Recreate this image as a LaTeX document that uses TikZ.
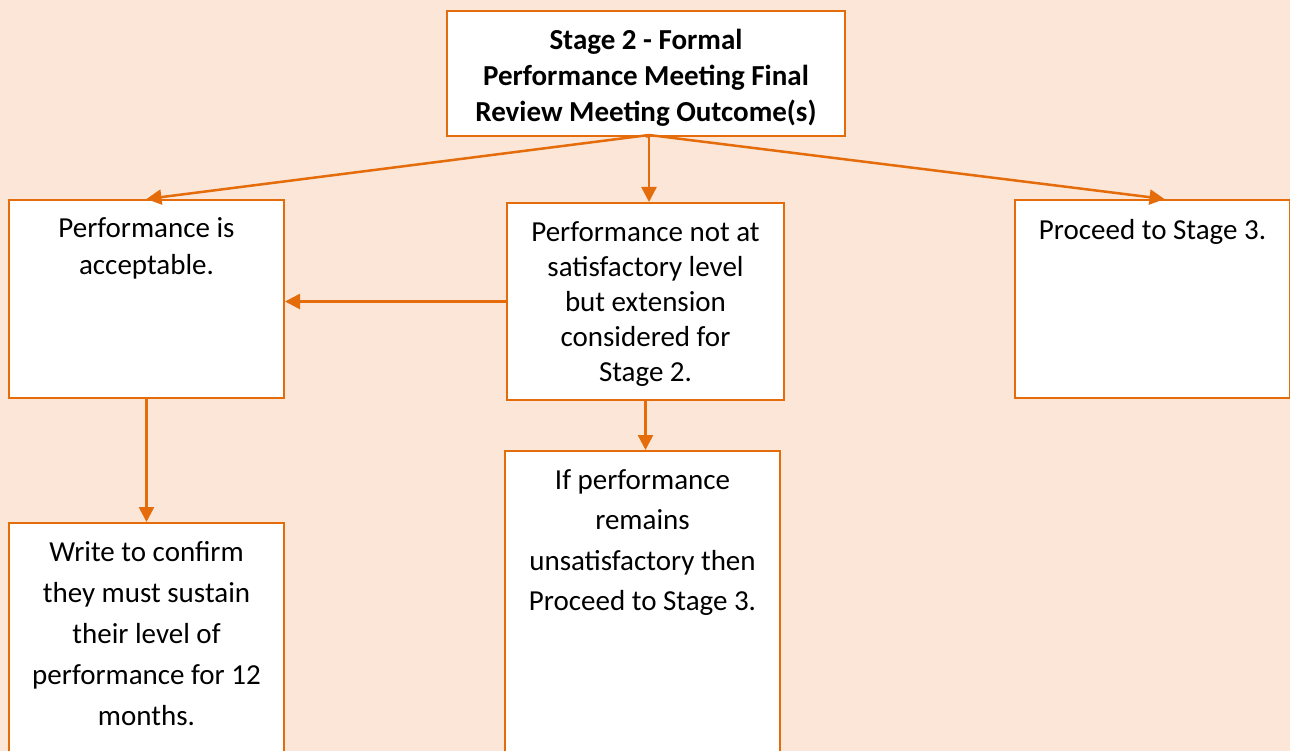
\documentclass[tikz,border=0pt]{standalone}
\usepackage{fontspec}
\setmainfont{Carlito}
\usetikzlibrary{arrows.meta,positioning}

\definecolor{peach}{HTML}{FBE6D8}
\definecolor{rust}{HTML}{E46C0A}

\begin{document}
\begin{tikzpicture}[x=1pt,y=-1pt,
  box/.style={draw=rust,fill=white,line width=2pt,inner sep=0pt,anchor=north west},
  boxtext/.style={align=center,inner sep=0pt,anchor=north,font=\fontsize{29}{#1}\selectfont},
  headtext/.style={align=center,inner sep=0pt,anchor=north,font=\fontsize{29}{#1}\selectfont\bfseries},
  arr/.style={draw=rust,line width=2.5pt,-{Triangle[length=15pt,width=15pt]}}]
  % page
  \fill[peach] (0,0) rectangle (1290,751);
  \useasboundingbox (0,0) rectangle (1290,751);
  \clip (0,0) rectangle (1290,751);
  % boxes
  \node[box,minimum width=398pt,minimum height=125pt] (outcome) at (446,10) {};
  \node[box,minimum width=275pt,minimum height=198pt] (accept) at (8,199) {};
  \node[box,minimum width=277pt,minimum height=197pt] (extend) at (506,202) {};
  \node[box,minimum width=275pt,minimum height=198pt] (stage3) at (1014,199) {};
  \node[box,minimum width=275pt,minimum height=260pt] (sustain) at (8,522) {};
  \node[box,minimum width=275pt,minimum height=330pt] (remain) at (504,450) {};
  % texts
  \node[headtext=36] (outcometxt) [below=19pt of outcome.north]
    {Stage 2 - Formal\\Performance Meeting Final\\Review Meeting Outcome(s)};
  \node[boxtext=37] (accepttxt) [below=18pt of accept.north] {Performance is\\acceptable.};
  \node[boxtext=35] (extendtxt) [below=19pt of extend.north]
    {Performance not at\\satisfactory level\\but extension\\considered for\\Stage 2.};
  \node[boxtext=36] (stage3txt) [below=20pt of stage3.north] {Proceed to Stage 3.};
  \node[boxtext=41] (sustaintxt) [below=19pt of sustain.north]
    {Write to confirm\\they must sustain\\their level of\\performance for 12\\months.};
  \node[boxtext=40.5] (remaintxt) [below=19pt of remain.north]
    {If performance\\remains\\unsatisfactory then\\Proceed to Stage 3.};
  % connectors
  \coordinate (fork) at ([xshift=3pt,yshift=2pt]outcome.south);
  \draw[rust,line width=2.5pt] (outcome.south) -- (fork);
  \draw[arr] (fork) -- (accept.north);
  \draw[arr] (fork) -- (fork |- extend.north);
  \draw[arr] (fork) -- ([xshift=12pt]stage3.north);
  \draw[arr] (extend.west) -- (extend.west -| accept.east);
  \draw[arr] (accept.south) -- (sustain.north);
  \draw[arr] (extend.south) -- (extend.south |- remain.north);
\end{tikzpicture}
\end{document}
